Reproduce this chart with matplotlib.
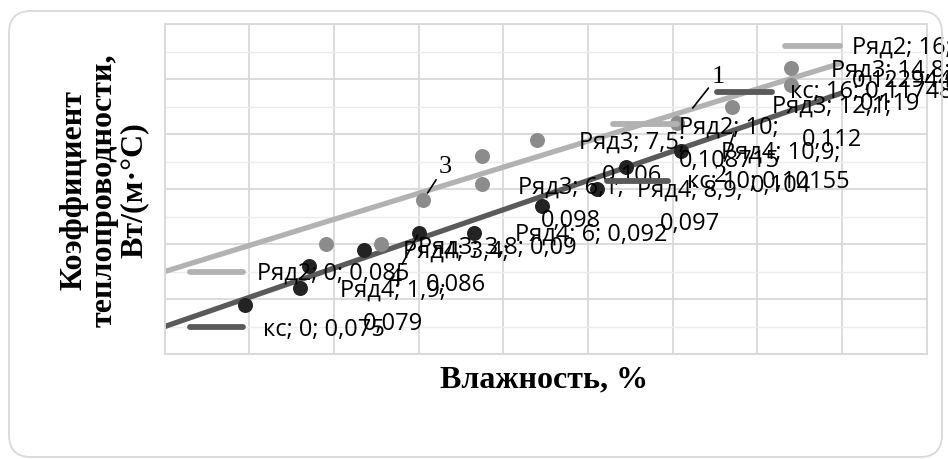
import matplotlib
matplotlib.use('Agg')
import matplotlib.pyplot as plt
import numpy as np
from matplotlib.lines import Line2D
from matplotlib.patches import FancyBboxPatch
from matplotlib.transforms import IdentityTransform

# trend lines: Ряд2 (upper) and кс (lower)
line_x = [0, 10, 16]
ryad2_y = [0.085, 0.108715, 0.122944]
ks_y = [0.075, 0.10155, 0.11748]

# measured points
ryad3_x = [3.8, 5.1, 6.1, 7.5, 7.5, 8.8, 12.1, 13.4, 14.8, 14.8]
ryad3_y = [0.090, 0.090, 0.098, 0.101, 0.106, 0.109, 0.112, 0.115, 0.119, 0.122]
ryad4_x = [1.9, 3.2, 3.4, 4.7, 6.0, 7.3, 8.9, 10.2, 10.9, 12.2]
ryad4_y = [0.079, 0.082, 0.086, 0.089, 0.092, 0.092, 0.097, 0.100, 0.104, 0.107]

x_title = 'Влажность, %'
y_title = 'Коэффициент\nтеплопроводности,\nВт/(м·°С)'

c_ryad2 = '#b2b2b2'
c_ks = '#5a5a5a'
c_ryad3 = '#8c8c8c'
c_ryad4 = '#232323'

series = {
    'Ряд2': (line_x, ryad2_y, c_ryad2),
    'кс': (line_x, ks_y, c_ks),
    'Ряд3': (ryad3_x, ryad3_y, c_ryad3),
    'Ряд4': (ryad4_x, ryad4_y, c_ryad4),
}

# data labels: series, point index, split in two lines, offset (px, y down), align, legend key
labels = [
    ('Ряд2', 0, False, 92, 1, 'left', (25, 78, 0)),
    ('кс', 0, False, 98, 2, 'left', (25, 78, 0)),
    ('Ряд2', 1, True, 141, -14, 'center', (25, 89, -17)),
    ('кс', 1, False, 99, 1, 'left', (19, 80, 1)),
    ('Ряд2', 2, True, 60, -16, 'center', (-57, -2, -17)),
    ('кс', 2, False, -52, -2, 'left', (-125, -70, -1)),
    ('Ряд4', 0, True, 148, -15, 'center', None),
    ('Ряд4', 2, True, 147, -15, 'center', None),
    ('Ряд3', 0, False, 172, 3, 'center', None),
    ('Ряд4', 4, False, 172, 1, 'center', None),
    ('Ряд3', 2, True, 148, -13, 'center', None),
    ('Ряд3', 4, True, 150, -14, 'center', None),
    ('Ряд4', 6, True, 148, -16, 'center', None),
    ('Ряд4', 8, True, 155, -15, 'center', None),
    ('Ряд3', 6, True, 155, -17, 'center', None),
    ('Ряд3', 8, True, 99, -15, 'center', None),
]


def num(v):
    return f"{v:g}".replace('.', ',')


W, H = 948, 460
fig = plt.figure(figsize=(W / 100, H / 100), dpi=100)
fig.patch.set_facecolor('white')

border = FancyBboxPatch((9, 2), 933, 446, boxstyle='round,pad=0,rounding_size=22',
                        transform=IdentityTransform(), ec='#d9d9d9', fc='none', lw=1.3)
fig.patches.append(border)

ax = fig.add_axes([164.8 / W, 105 / H, 762 / W, 330 / H])
ax.set_xlim(0, 18)
ax.set_ylim(0.07, 0.13)
ax.set_xticks(np.arange(0, 19, 2))
ax.set_yticks(np.arange(0.07, 0.1301, 0.01))
ax.set_yticks(np.arange(0.075, 0.13, 0.01), minor=True)
ax.tick_params(which='both', length=0, labelbottom=False, labelleft=False)
ax.grid(which='major', color='#d9d9d9', lw=1.3)
ax.grid(which='minor', axis='y', color='#ececec', lw=1.0)
for s in ax.spines.values():
    s.set_color('#d9d9d9')
    s.set_linewidth(1.3)
ax.set_axisbelow(True)

ax.plot(line_x, ryad2_y, color=c_ryad2, lw=3.8, solid_capstyle='butt', zorder=2)
ax.plot(line_x, ks_y, color=c_ks, lw=3.8, solid_capstyle='butt', zorder=2)
ax.plot(ryad3_x, ryad3_y, 'o', color=c_ryad3, ms=10.8, mew=0, zorder=3)
ax.plot(ryad4_x, ryad4_y, 'o', color=c_ryad4, ms=10.8, mew=0, zorder=3)

lab_font = dict(family=['Open Sans', 'DejaVu Sans'], fontsize=17, color='black')
for name, i, split, dx, dy, ha, key in labels:
    xs, ys, col = series[name]
    x, y = xs[i], ys[i]
    if split:
        lines = [f"{name}; {num(x)};", num(y)]
    else:
        lines = [f"{name}; {num(x)}; {num(y)}"]
    for k, t in enumerate(lines):
        ax.annotate(t, (x, y), xytext=(dx, -(dy + 33 * k)), textcoords='offset pixels',
                    ha=ha, va='center', zorder=5, annotation_clip=False, **lab_font)
    if key is not None:
        px, py = ax.transData.transform((x, y))
        fig.add_artist(Line2D([px + key[0], px + key[1]], [py - key[2]] * 2,
                              transform=IdentityTransform(), color=col, lw=4.2,
                              solid_capstyle='round', zorder=4))

# curve numbers with leader lines
marks = [
    ('1', 12.45, np.interp(12.45, line_x, ryad2_y), (26, -33), 1),
    ('2', 13.47, np.interp(13.47, line_x, ks_y), (-15, 45), 3),
    ('3', ryad3_x[2], ryad3_y[2], (22, -34), 6),
    ('4', ryad4_x[4], ryad4_y[4], (-24, 45), 2),
]
for t, x, y, (dx, dy), sh in marks:
    ax.annotate(t, (x, y), xytext=(dx, -dy), textcoords='offset pixels',
                ha='center', va='center', fontsize=19, family='Liberation Serif',
                zorder=6, annotation_clip=False,
                arrowprops=dict(arrowstyle='-', color='black', lw=1.2, shrinkA=0, shrinkB=sh))

fig.text(544 / W, 1 - 380 / H, x_title, ha='center', va='center', fontsize=23,
         family='Liberation Serif', fontweight='bold')
fig.text(104 / W, 1 - 190 / H, y_title, ha='center', va='center', rotation=90,
         fontsize=23, family='Liberation Serif', fontweight='bold',
         multialignment='center', linespacing=1.05)

fig.savefig('out.png', dpi=100)
